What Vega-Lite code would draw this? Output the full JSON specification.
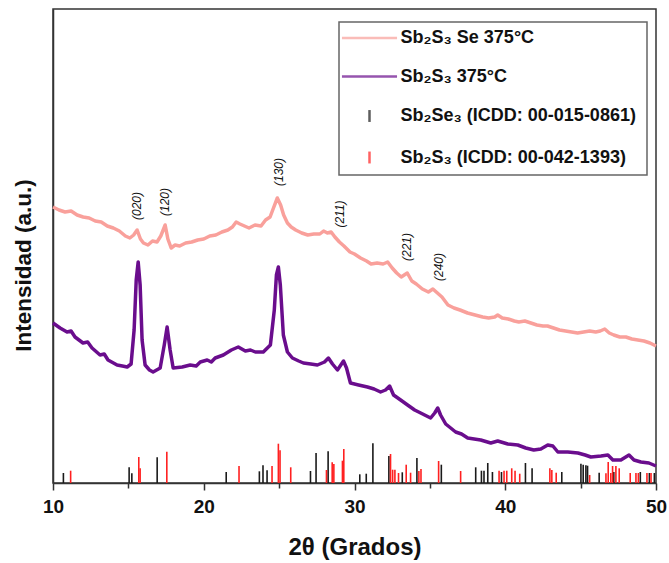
{
  "$schema": "https://vega.github.io/schema/vega-lite/v6.json",
  "width": 603,
  "height": 474,
  "autosize": {"type": "none"},
  "padding": {"left": 53, "top": 9, "right": 13, "bottom": 80},
  "background": "white",
  "config": {
    "view": {"stroke": "#333", "strokeWidth": 1.5},
    "font": "Liberation Sans",
    "legend": {"strokeWidth": 1.5}
  },
  "datasets": {
    "curves": [
      {"theta": 10.0, "I": 276, "series": "Sb₂S₃ Se 375°C"},
      {"theta": 10.4, "I": 273, "series": "Sb₂S₃ Se 375°C"},
      {"theta": 10.8, "I": 271, "series": "Sb₂S₃ Se 375°C"},
      {"theta": 11.2, "I": 272, "series": "Sb₂S₃ Se 375°C"},
      {"theta": 11.6, "I": 268, "series": "Sb₂S₃ Se 375°C"},
      {"theta": 12.0, "I": 266, "series": "Sb₂S₃ Se 375°C"},
      {"theta": 12.4, "I": 265, "series": "Sb₂S₃ Se 375°C"},
      {"theta": 12.8, "I": 262, "series": "Sb₂S₃ Se 375°C"},
      {"theta": 13.2, "I": 261, "series": "Sb₂S₃ Se 375°C"},
      {"theta": 13.6, "I": 257, "series": "Sb₂S₃ Se 375°C"},
      {"theta": 14.0, "I": 255, "series": "Sb₂S₃ Se 375°C"},
      {"theta": 14.4, "I": 252, "series": "Sb₂S₃ Se 375°C"},
      {"theta": 14.8, "I": 247, "series": "Sb₂S₃ Se 375°C"},
      {"theta": 15.1, "I": 245, "series": "Sb₂S₃ Se 375°C"},
      {"theta": 15.35, "I": 248, "series": "Sb₂S₃ Se 375°C"},
      {"theta": 15.58, "I": 253, "series": "Sb₂S₃ Se 375°C"},
      {"theta": 15.8, "I": 244, "series": "Sb₂S₃ Se 375°C"},
      {"theta": 16.0, "I": 240, "series": "Sb₂S₃ Se 375°C"},
      {"theta": 16.3, "I": 238, "series": "Sb₂S₃ Se 375°C"},
      {"theta": 16.6, "I": 242, "series": "Sb₂S₃ Se 375°C"},
      {"theta": 16.9, "I": 241, "series": "Sb₂S₃ Se 375°C"},
      {"theta": 17.15, "I": 247, "series": "Sb₂S₃ Se 375°C"},
      {"theta": 17.44, "I": 258, "series": "Sb₂S₃ Se 375°C"},
      {"theta": 17.62, "I": 244, "series": "Sb₂S₃ Se 375°C"},
      {"theta": 17.84, "I": 235, "series": "Sb₂S₃ Se 375°C"},
      {"theta": 18.1, "I": 238, "series": "Sb₂S₃ Se 375°C"},
      {"theta": 18.4, "I": 237, "series": "Sb₂S₃ Se 375°C"},
      {"theta": 18.8, "I": 240, "series": "Sb₂S₃ Se 375°C"},
      {"theta": 19.2, "I": 241, "series": "Sb₂S₃ Se 375°C"},
      {"theta": 19.6, "I": 243, "series": "Sb₂S₃ Se 375°C"},
      {"theta": 20.0, "I": 244, "series": "Sb₂S₃ Se 375°C"},
      {"theta": 20.4, "I": 247, "series": "Sb₂S₃ Se 375°C"},
      {"theta": 20.8, "I": 248, "series": "Sb₂S₃ Se 375°C"},
      {"theta": 21.2, "I": 251, "series": "Sb₂S₃ Se 375°C"},
      {"theta": 21.6, "I": 253, "series": "Sb₂S₃ Se 375°C"},
      {"theta": 21.9, "I": 256, "series": "Sb₂S₃ Se 375°C"},
      {"theta": 22.15, "I": 261, "series": "Sb₂S₃ Se 375°C"},
      {"theta": 22.4, "I": 259, "series": "Sb₂S₃ Se 375°C"},
      {"theta": 22.7, "I": 257, "series": "Sb₂S₃ Se 375°C"},
      {"theta": 23.0, "I": 255, "series": "Sb₂S₃ Se 375°C"},
      {"theta": 23.4, "I": 258, "series": "Sb₂S₃ Se 375°C"},
      {"theta": 23.8, "I": 257, "series": "Sb₂S₃ Se 375°C"},
      {"theta": 24.1, "I": 263, "series": "Sb₂S₃ Se 375°C"},
      {"theta": 24.4, "I": 266, "series": "Sb₂S₃ Se 375°C"},
      {"theta": 24.6, "I": 274, "series": "Sb₂S₃ Se 375°C"},
      {"theta": 24.88, "I": 285, "series": "Sb₂S₃ Se 375°C"},
      {"theta": 25.1, "I": 278, "series": "Sb₂S₃ Se 375°C"},
      {"theta": 25.3, "I": 268, "series": "Sb₂S₃ Se 375°C"},
      {"theta": 25.55, "I": 260, "series": "Sb₂S₃ Se 375°C"},
      {"theta": 25.8, "I": 256, "series": "Sb₂S₃ Se 375°C"},
      {"theta": 26.1, "I": 253, "series": "Sb₂S₃ Se 375°C"},
      {"theta": 26.5, "I": 250, "series": "Sb₂S₃ Se 375°C"},
      {"theta": 26.9, "I": 248, "series": "Sb₂S₃ Se 375°C"},
      {"theta": 27.3, "I": 249, "series": "Sb₂S₃ Se 375°C"},
      {"theta": 27.7, "I": 249, "series": "Sb₂S₃ Se 375°C"},
      {"theta": 27.95, "I": 252, "series": "Sb₂S₃ Se 375°C"},
      {"theta": 28.2, "I": 250, "series": "Sb₂S₃ Se 375°C"},
      {"theta": 28.45, "I": 251, "series": "Sb₂S₃ Se 375°C"},
      {"theta": 28.7, "I": 246, "series": "Sb₂S₃ Se 375°C"},
      {"theta": 29.0, "I": 241, "series": "Sb₂S₃ Se 375°C"},
      {"theta": 29.3, "I": 237, "series": "Sb₂S₃ Se 375°C"},
      {"theta": 29.7, "I": 231, "series": "Sb₂S₃ Se 375°C"},
      {"theta": 30.0, "I": 229, "series": "Sb₂S₃ Se 375°C"},
      {"theta": 30.4, "I": 225, "series": "Sb₂S₃ Se 375°C"},
      {"theta": 30.8, "I": 222, "series": "Sb₂S₃ Se 375°C"},
      {"theta": 31.1, "I": 219, "series": "Sb₂S₃ Se 375°C"},
      {"theta": 31.5, "I": 220, "series": "Sb₂S₃ Se 375°C"},
      {"theta": 31.9, "I": 219, "series": "Sb₂S₃ Se 375°C"},
      {"theta": 32.2, "I": 221, "series": "Sb₂S₃ Se 375°C"},
      {"theta": 32.5, "I": 215, "series": "Sb₂S₃ Se 375°C"},
      {"theta": 32.8, "I": 210, "series": "Sb₂S₃ Se 375°C"},
      {"theta": 33.1, "I": 206, "series": "Sb₂S₃ Se 375°C"},
      {"theta": 33.5, "I": 210, "series": "Sb₂S₃ Se 375°C"},
      {"theta": 33.8, "I": 202, "series": "Sb₂S₃ Se 375°C"},
      {"theta": 34.1, "I": 199, "series": "Sb₂S₃ Se 375°C"},
      {"theta": 34.5, "I": 194, "series": "Sb₂S₃ Se 375°C"},
      {"theta": 34.9, "I": 191, "series": "Sb₂S₃ Se 375°C"},
      {"theta": 35.2, "I": 194, "series": "Sb₂S₃ Se 375°C"},
      {"theta": 35.5, "I": 190, "series": "Sb₂S₃ Se 375°C"},
      {"theta": 35.8, "I": 186, "series": "Sb₂S₃ Se 375°C"},
      {"theta": 36.2, "I": 178, "series": "Sb₂S₃ Se 375°C"},
      {"theta": 36.6, "I": 175, "series": "Sb₂S₃ Se 375°C"},
      {"theta": 37.0, "I": 173, "series": "Sb₂S₃ Se 375°C"},
      {"theta": 37.5, "I": 170, "series": "Sb₂S₃ Se 375°C"},
      {"theta": 38.0, "I": 168, "series": "Sb₂S₃ Se 375°C"},
      {"theta": 38.5, "I": 166, "series": "Sb₂S₃ Se 375°C"},
      {"theta": 38.9, "I": 165, "series": "Sb₂S₃ Se 375°C"},
      {"theta": 39.3, "I": 166, "series": "Sb₂S₃ Se 375°C"},
      {"theta": 39.5, "I": 168, "series": "Sb₂S₃ Se 375°C"},
      {"theta": 39.8, "I": 165, "series": "Sb₂S₃ Se 375°C"},
      {"theta": 40.2, "I": 164, "series": "Sb₂S₃ Se 375°C"},
      {"theta": 40.6, "I": 162, "series": "Sb₂S₃ Se 375°C"},
      {"theta": 40.9, "I": 161, "series": "Sb₂S₃ Se 375°C"},
      {"theta": 41.3, "I": 162, "series": "Sb₂S₃ Se 375°C"},
      {"theta": 41.7, "I": 160, "series": "Sb₂S₃ Se 375°C"},
      {"theta": 42.1, "I": 158, "series": "Sb₂S₃ Se 375°C"},
      {"theta": 42.5, "I": 157, "series": "Sb₂S₃ Se 375°C"},
      {"theta": 42.8, "I": 157, "series": "Sb₂S₃ Se 375°C"},
      {"theta": 43.2, "I": 155, "series": "Sb₂S₃ Se 375°C"},
      {"theta": 43.6, "I": 153, "series": "Sb₂S₃ Se 375°C"},
      {"theta": 44.0, "I": 152, "series": "Sb₂S₃ Se 375°C"},
      {"theta": 44.4, "I": 151, "series": "Sb₂S₃ Se 375°C"},
      {"theta": 44.8, "I": 150, "series": "Sb₂S₃ Se 375°C"},
      {"theta": 45.2, "I": 151, "series": "Sb₂S₃ Se 375°C"},
      {"theta": 45.6, "I": 152, "series": "Sb₂S₃ Se 375°C"},
      {"theta": 46.0, "I": 151, "series": "Sb₂S₃ Se 375°C"},
      {"theta": 46.3, "I": 152, "series": "Sb₂S₃ Se 375°C"},
      {"theta": 46.6, "I": 154, "series": "Sb₂S₃ Se 375°C"},
      {"theta": 46.9, "I": 150, "series": "Sb₂S₃ Se 375°C"},
      {"theta": 47.2, "I": 148, "series": "Sb₂S₃ Se 375°C"},
      {"theta": 47.6, "I": 146, "series": "Sb₂S₃ Se 375°C"},
      {"theta": 48.0, "I": 146, "series": "Sb₂S₃ Se 375°C"},
      {"theta": 48.4, "I": 144, "series": "Sb₂S₃ Se 375°C"},
      {"theta": 48.8, "I": 143, "series": "Sb₂S₃ Se 375°C"},
      {"theta": 49.2, "I": 142, "series": "Sb₂S₃ Se 375°C"},
      {"theta": 49.6, "I": 140, "series": "Sb₂S₃ Se 375°C"},
      {"theta": 50.0, "I": 137, "series": "Sb₂S₃ Se 375°C"},

      {"theta": 10.0, "I": 160, "series": "Sb₂S₃ 375°C"},
      {"theta": 10.47, "I": 155, "series": "Sb₂S₃ 375°C"},
      {"theta": 10.93, "I": 151, "series": "Sb₂S₃ 375°C"},
      {"theta": 11.2, "I": 152, "series": "Sb₂S₃ 375°C"},
      {"theta": 11.46, "I": 146, "series": "Sb₂S₃ 375°C"},
      {"theta": 11.99, "I": 140, "series": "Sb₂S₃ 375°C"},
      {"theta": 12.3, "I": 141, "series": "Sb₂S₃ 375°C"},
      {"theta": 12.59, "I": 135, "series": "Sb₂S₃ 375°C"},
      {"theta": 13.12, "I": 128, "series": "Sb₂S₃ 375°C"},
      {"theta": 13.4, "I": 129, "series": "Sb₂S₃ 375°C"},
      {"theta": 13.65, "I": 123, "series": "Sb₂S₃ 375°C"},
      {"theta": 14.25, "I": 118, "series": "Sb₂S₃ 375°C"},
      {"theta": 14.6, "I": 117, "series": "Sb₂S₃ 375°C"},
      {"theta": 14.92, "I": 116, "series": "Sb₂S₃ 375°C"},
      {"theta": 15.18, "I": 119, "series": "Sb₂S₃ 375°C"},
      {"theta": 15.38, "I": 153, "series": "Sb₂S₃ 375°C"},
      {"theta": 15.52, "I": 203, "series": "Sb₂S₃ 375°C"},
      {"theta": 15.65, "I": 221, "series": "Sb₂S₃ 375°C"},
      {"theta": 15.78, "I": 198, "series": "Sb₂S₃ 375°C"},
      {"theta": 15.91, "I": 143, "series": "Sb₂S₃ 375°C"},
      {"theta": 16.11, "I": 118, "series": "Sb₂S₃ 375°C"},
      {"theta": 16.4, "I": 113, "series": "Sb₂S₃ 375°C"},
      {"theta": 16.64, "I": 111, "series": "Sb₂S₃ 375°C"},
      {"theta": 17.11, "I": 115, "series": "Sb₂S₃ 375°C"},
      {"theta": 17.38, "I": 138, "series": "Sb₂S₃ 375°C"},
      {"theta": 17.57, "I": 156, "series": "Sb₂S₃ 375°C"},
      {"theta": 17.77, "I": 133, "series": "Sb₂S₃ 375°C"},
      {"theta": 17.97, "I": 115, "series": "Sb₂S₃ 375°C"},
      {"theta": 18.57, "I": 116, "series": "Sb₂S₃ 375°C"},
      {"theta": 19.1, "I": 118, "series": "Sb₂S₃ 375°C"},
      {"theta": 19.5, "I": 117, "series": "Sb₂S₃ 375°C"},
      {"theta": 19.77, "I": 121, "series": "Sb₂S₃ 375°C"},
      {"theta": 20.23, "I": 123, "series": "Sb₂S₃ 375°C"},
      {"theta": 20.5, "I": 121, "series": "Sb₂S₃ 375°C"},
      {"theta": 20.76, "I": 125, "series": "Sb₂S₃ 375°C"},
      {"theta": 21.3, "I": 128, "series": "Sb₂S₃ 375°C"},
      {"theta": 21.83, "I": 133, "series": "Sb₂S₃ 375°C"},
      {"theta": 22.29, "I": 136, "series": "Sb₂S₃ 375°C"},
      {"theta": 22.76, "I": 132, "series": "Sb₂S₃ 375°C"},
      {"theta": 23.1, "I": 133, "series": "Sb₂S₃ 375°C"},
      {"theta": 23.42, "I": 131, "series": "Sb₂S₃ 375°C"},
      {"theta": 23.95, "I": 131, "series": "Sb₂S₃ 375°C"},
      {"theta": 24.42, "I": 138, "series": "Sb₂S₃ 375°C"},
      {"theta": 24.68, "I": 173, "series": "Sb₂S₃ 375°C"},
      {"theta": 24.82, "I": 208, "series": "Sb₂S₃ 375°C"},
      {"theta": 24.95, "I": 216, "series": "Sb₂S₃ 375°C"},
      {"theta": 25.08, "I": 198, "series": "Sb₂S₃ 375°C"},
      {"theta": 25.28, "I": 148, "series": "Sb₂S₃ 375°C"},
      {"theta": 25.55, "I": 131, "series": "Sb₂S₃ 375°C"},
      {"theta": 25.88, "I": 125, "series": "Sb₂S₃ 375°C"},
      {"theta": 26.3, "I": 122, "series": "Sb₂S₃ 375°C"},
      {"theta": 26.61, "I": 120, "series": "Sb₂S₃ 375°C"},
      {"theta": 27.1, "I": 119, "series": "Sb₂S₃ 375°C"},
      {"theta": 27.54, "I": 118, "series": "Sb₂S₃ 375°C"},
      {"theta": 28.01, "I": 121, "series": "Sb₂S₃ 375°C"},
      {"theta": 28.27, "I": 125, "series": "Sb₂S₃ 375°C"},
      {"theta": 28.54, "I": 119, "series": "Sb₂S₃ 375°C"},
      {"theta": 28.87, "I": 113, "series": "Sb₂S₃ 375°C"},
      {"theta": 29.27, "I": 122, "series": "Sb₂S₃ 375°C"},
      {"theta": 29.47, "I": 115, "series": "Sb₂S₃ 375°C"},
      {"theta": 29.73, "I": 100, "series": "Sb₂S₃ 375°C"},
      {"theta": 30.27, "I": 98, "series": "Sb₂S₃ 375°C"},
      {"theta": 30.86, "I": 96, "series": "Sb₂S₃ 375°C"},
      {"theta": 31.3, "I": 94, "series": "Sb₂S₃ 375°C"},
      {"theta": 31.73, "I": 91, "series": "Sb₂S₃ 375°C"},
      {"theta": 32.06, "I": 93, "series": "Sb₂S₃ 375°C"},
      {"theta": 32.33, "I": 97, "series": "Sb₂S₃ 375°C"},
      {"theta": 32.59, "I": 88, "series": "Sb₂S₃ 375°C"},
      {"theta": 33.06, "I": 83, "series": "Sb₂S₃ 375°C"},
      {"theta": 33.52, "I": 78, "series": "Sb₂S₃ 375°C"},
      {"theta": 33.99, "I": 73, "series": "Sb₂S₃ 375°C"},
      {"theta": 34.39, "I": 70, "series": "Sb₂S₃ 375°C"},
      {"theta": 35.05, "I": 65, "series": "Sb₂S₃ 375°C"},
      {"theta": 35.32, "I": 70, "series": "Sb₂S₃ 375°C"},
      {"theta": 35.52, "I": 75, "series": "Sb₂S₃ 375°C"},
      {"theta": 35.71, "I": 68, "series": "Sb₂S₃ 375°C"},
      {"theta": 36.05, "I": 59, "series": "Sb₂S₃ 375°C"},
      {"theta": 36.71, "I": 51, "series": "Sb₂S₃ 375°C"},
      {"theta": 37.1, "I": 49, "series": "Sb₂S₃ 375°C"},
      {"theta": 37.51, "I": 45, "series": "Sb₂S₃ 375°C"},
      {"theta": 38.37, "I": 43, "series": "Sb₂S₃ 375°C"},
      {"theta": 39.04, "I": 40, "series": "Sb₂S₃ 375°C"},
      {"theta": 39.5, "I": 42, "series": "Sb₂S₃ 375°C"},
      {"theta": 40.17, "I": 39, "series": "Sb₂S₃ 375°C"},
      {"theta": 40.83, "I": 38, "series": "Sb₂S₃ 375°C"},
      {"theta": 41.36, "I": 35, "series": "Sb₂S₃ 375°C"},
      {"theta": 41.89, "I": 33, "series": "Sb₂S₃ 375°C"},
      {"theta": 42.36, "I": 34, "series": "Sb₂S₃ 375°C"},
      {"theta": 42.82, "I": 38, "series": "Sb₂S₃ 375°C"},
      {"theta": 43.16, "I": 37, "series": "Sb₂S₃ 375°C"},
      {"theta": 43.49, "I": 31, "series": "Sb₂S₃ 375°C"},
      {"theta": 44.15, "I": 31, "series": "Sb₂S₃ 375°C"},
      {"theta": 44.82, "I": 30, "series": "Sb₂S₃ 375°C"},
      {"theta": 45.3, "I": 28, "series": "Sb₂S₃ 375°C"},
      {"theta": 45.68, "I": 26, "series": "Sb₂S₃ 375°C"},
      {"theta": 46.35, "I": 27, "series": "Sb₂S₃ 375°C"},
      {"theta": 46.81, "I": 28, "series": "Sb₂S₃ 375°C"},
      {"theta": 47.14, "I": 23, "series": "Sb₂S₃ 375°C"},
      {"theta": 47.67, "I": 23, "series": "Sb₂S₃ 375°C"},
      {"theta": 48.21, "I": 28, "series": "Sb₂S₃ 375°C"},
      {"theta": 48.54, "I": 23, "series": "Sb₂S₃ 375°C"},
      {"theta": 49.0, "I": 21, "series": "Sb₂S₃ 375°C"},
      {"theta": 49.53, "I": 20, "series": "Sb₂S₃ 375°C"},
      {"theta": 50.0, "I": 17, "series": "Sb₂S₃ 375°C"}
    ],
    "sticks": [
      {"theta": 10.69, "h": 10, "series": "Sb₂Se₃  (ICDD: 00-015-0861)"},
      {"theta": 15.05, "h": 15.7, "series": "Sb₂Se₃  (ICDD: 00-015-0861)"},
      {"theta": 15.23, "h": 9.7, "series": "Sb₂Se₃  (ICDD: 00-015-0861)"},
      {"theta": 16.91, "h": 25.7, "series": "Sb₂Se₃  (ICDD: 00-015-0861)"},
      {"theta": 21.49, "h": 11, "series": "Sb₂Se₃  (ICDD: 00-015-0861)"},
      {"theta": 23.69, "h": 11.7, "series": "Sb₂Se₃  (ICDD: 00-015-0861)"},
      {"theta": 23.93, "h": 17.7, "series": "Sb₂Se₃  (ICDD: 00-015-0861)"},
      {"theta": 24.2, "h": 12.7, "series": "Sb₂Se₃  (ICDD: 00-015-0861)"},
      {"theta": 27.08, "h": 12, "series": "Sb₂Se₃  (ICDD: 00-015-0861)"},
      {"theta": 27.45, "h": 30, "series": "Sb₂Se₃  (ICDD: 00-015-0861)"},
      {"theta": 28.25, "h": 31.7, "series": "Sb₂Se₃  (ICDD: 00-015-0861)"},
      {"theta": 30.35, "h": 8.7, "series": "Sb₂Se₃  (ICDD: 00-015-0861)"},
      {"theta": 30.78, "h": 9.3, "series": "Sb₂Se₃  (ICDD: 00-015-0861)"},
      {"theta": 31.22, "h": 39.7, "series": "Sb₂Se₃  (ICDD: 00-015-0861)"},
      {"theta": 32.28, "h": 27, "series": "Sb₂Se₃  (ICDD: 00-015-0861)"},
      {"theta": 33.17, "h": 10.7, "series": "Sb₂Se₃  (ICDD: 00-015-0861)"},
      {"theta": 34.14, "h": 25, "series": "Sb₂Se₃  (ICDD: 00-015-0861)"},
      {"theta": 35.76, "h": 18.3, "series": "Sb₂Se₃  (ICDD: 00-015-0861)"},
      {"theta": 38.04, "h": 15.7, "series": "Sb₂Se₃  (ICDD: 00-015-0861)"},
      {"theta": 38.42, "h": 12.3, "series": "Sb₂Se₃  (ICDD: 00-015-0861)"},
      {"theta": 38.59, "h": 12.3, "series": "Sb₂Se₃  (ICDD: 00-015-0861)"},
      {"theta": 38.84, "h": 20, "series": "Sb₂Se₃  (ICDD: 00-015-0861)"},
      {"theta": 39.15, "h": 11, "series": "Sb₂Se₃  (ICDD: 00-015-0861)"},
      {"theta": 39.75, "h": 11, "series": "Sb₂Se₃  (ICDD: 00-015-0861)"},
      {"theta": 41.34, "h": 20, "series": "Sb₂Se₃  (ICDD: 00-015-0861)"},
      {"theta": 41.78, "h": 14.7, "series": "Sb₂Se₃  (ICDD: 00-015-0861)"},
      {"theta": 43.75, "h": 11, "series": "Sb₂Se₃  (ICDD: 00-015-0861)"},
      {"theta": 45.02, "h": 19.3, "series": "Sb₂Se₃  (ICDD: 00-015-0861)"},
      {"theta": 45.17, "h": 18.3, "series": "Sb₂Se₃  (ICDD: 00-015-0861)"},
      {"theta": 45.35, "h": 17.7, "series": "Sb₂Se₃  (ICDD: 00-015-0861)"},
      {"theta": 45.46, "h": 17.3, "series": "Sb₂Se₃  (ICDD: 00-015-0861)"},
      {"theta": 46.23, "h": 10.3, "series": "Sb₂Se₃  (ICDD: 00-015-0861)"},
      {"theta": 47.2, "h": 11, "series": "Sb₂Se₃  (ICDD: 00-015-0861)"},
      {"theta": 48.96, "h": 11, "series": "Sb₂Se₃  (ICDD: 00-015-0861)"},
      {"theta": 49.56, "h": 10, "series": "Sb₂Se₃  (ICDD: 00-015-0861)"},
      {"theta": 49.89, "h": 10, "series": "Sb₂Se₃  (ICDD: 00-015-0861)"},
      {"theta": 11.17, "h": 12.3, "series": "Sb₂S₃  (ICDD: 00-042-1393)"},
      {"theta": 15.69, "h": 26, "series": "Sb₂S₃  (ICDD: 00-042-1393)"},
      {"theta": 15.78, "h": 14.7, "series": "Sb₂S₃  (ICDD: 00-042-1393)"},
      {"theta": 17.55, "h": 31.3, "series": "Sb₂S₃  (ICDD: 00-042-1393)"},
      {"theta": 22.34, "h": 17, "series": "Sb₂S₃  (ICDD: 00-042-1393)"},
      {"theta": 24.53, "h": 17, "series": "Sb₂S₃  (ICDD: 00-042-1393)"},
      {"theta": 24.95, "h": 39.3, "series": "Sb₂S₃  (ICDD: 00-042-1393)"},
      {"theta": 25.06, "h": 32.7, "series": "Sb₂S₃  (ICDD: 00-042-1393)"},
      {"theta": 25.77, "h": 15.7, "series": "Sb₂S₃  (ICDD: 00-042-1393)"},
      {"theta": 28.14, "h": 13, "series": "Sb₂S₃  (ICDD: 00-042-1393)"},
      {"theta": 28.52, "h": 20.7, "series": "Sb₂S₃  (ICDD: 00-042-1393)"},
      {"theta": 28.63, "h": 19, "series": "Sb₂S₃  (ICDD: 00-042-1393)"},
      {"theta": 29.2, "h": 22.3, "series": "Sb₂S₃  (ICDD: 00-042-1393)"},
      {"theta": 29.29, "h": 34, "series": "Sb₂S₃  (ICDD: 00-042-1393)"},
      {"theta": 32.39, "h": 29, "series": "Sb₂S₃  (ICDD: 00-042-1393)"},
      {"theta": 32.53, "h": 13.3, "series": "Sb₂S₃  (ICDD: 00-042-1393)"},
      {"theta": 32.68, "h": 13.3, "series": "Sb₂S₃  (ICDD: 00-042-1393)"},
      {"theta": 32.92, "h": 10, "series": "Sb₂S₃  (ICDD: 00-042-1393)"},
      {"theta": 33.43, "h": 18.3, "series": "Sb₂S₃  (ICDD: 00-042-1393)"},
      {"theta": 33.72, "h": 10.3, "series": "Sb₂S₃  (ICDD: 00-042-1393)"},
      {"theta": 34.27, "h": 12, "series": "Sb₂S₃  (ICDD: 00-042-1393)"},
      {"theta": 34.41, "h": 14, "series": "Sb₂S₃  (ICDD: 00-042-1393)"},
      {"theta": 35.58, "h": 22, "series": "Sb₂S₃  (ICDD: 00-042-1393)"},
      {"theta": 37.04, "h": 12, "series": "Sb₂S₃  (ICDD: 00-042-1393)"},
      {"theta": 39.59, "h": 12.3, "series": "Sb₂S₃  (ICDD: 00-042-1393)"},
      {"theta": 39.92, "h": 12.3, "series": "Sb₂S₃  (ICDD: 00-042-1393)"},
      {"theta": 40.1, "h": 12.3, "series": "Sb₂S₃  (ICDD: 00-042-1393)"},
      {"theta": 40.43, "h": 14.7, "series": "Sb₂S₃  (ICDD: 00-042-1393)"},
      {"theta": 40.65, "h": 12.3, "series": "Sb₂S₃  (ICDD: 00-042-1393)"},
      {"theta": 40.96, "h": 9.3, "series": "Sb₂S₃  (ICDD: 00-042-1393)"},
      {"theta": 42.96, "h": 14.7, "series": "Sb₂S₃  (ICDD: 00-042-1393)"},
      {"theta": 43.09, "h": 13, "series": "Sb₂S₃  (ICDD: 00-042-1393)"},
      {"theta": 43.38, "h": 10.3, "series": "Sb₂S₃  (ICDD: 00-042-1393)"},
      {"theta": 45.6, "h": 8, "series": "Sb₂S₃  (ICDD: 00-042-1393)"},
      {"theta": 46.68, "h": 9.7, "series": "Sb₂S₃  (ICDD: 00-042-1393)"},
      {"theta": 46.83, "h": 21, "series": "Sb₂S₃  (ICDD: 00-042-1393)"},
      {"theta": 47.0, "h": 10, "series": "Sb₂S₃  (ICDD: 00-042-1393)"},
      {"theta": 47.12, "h": 17, "series": "Sb₂S₃  (ICDD: 00-042-1393)"},
      {"theta": 47.34, "h": 17, "series": "Sb₂S₃  (ICDD: 00-042-1393)"},
      {"theta": 47.56, "h": 14.7, "series": "Sb₂S₃  (ICDD: 00-042-1393)"},
      {"theta": 48.29, "h": 10, "series": "Sb₂S₃  (ICDD: 00-042-1393)"},
      {"theta": 48.67, "h": 10, "series": "Sb₂S₃  (ICDD: 00-042-1393)"},
      {"theta": 48.83, "h": 10, "series": "Sb₂S₃  (ICDD: 00-042-1393)"},
      {"theta": 49.4, "h": 10, "series": "Sb₂S₃  (ICDD: 00-042-1393)"},
      {"theta": 49.67, "h": 10, "series": "Sb₂S₃  (ICDD: 00-042-1393)"}
    ],
    "peaks": [
      {"theta": 15.56, "I": 277, "hkl": "(020)"},
      {"theta": 17.44, "I": 281, "hkl": "(120)"},
      {"theta": 24.97, "I": 311, "hkl": "(130)"},
      {"theta": 29.07, "I": 269, "hkl": "(211)"},
      {"theta": 33.5, "I": 236, "hkl": "(221)"},
      {"theta": 35.6, "I": 216, "hkl": "(240)"}
    ]
  },
  "encoding": {
    "x": {
      "field": "theta",
      "type": "quantitative",
      "scale": {"domain": [10, 50], "nice": false, "zero": false},
      "axis": {
        "title": "2θ (Grados)",
        "values": [10, 15, 20, 25, 30, 35, 40, 45, 50],
        "labelExpr": "datum.value % 10 === 0 ? datum.label : ''",
        "grid": false,
        "domainColor": "#333",
        "domainWidth": 1.5,
        "tickColor": "#333",
        "tickWidth": 1.5,
        "tickSize": {"condition": {"test": "datum.value % 10 === 0", "value": 7}, "value": 5},
        "labelFont": "Liberation Sans",
        "labelFontSize": 19,
        "labelFontWeight": "bold",
        "labelColor": "#111",
        "labelPadding": 7,
        "labelFlush": false,
        "titleFont": "Liberation Sans",
        "titleFontSize": 24,
        "titleFontWeight": "bold",
        "titleColor": "#111",
        "titlePadding": 19
      }
    }
  },
  "layer": [
    {
      "data": {"name": "sticks"},
      "mark": {"type": "rule", "strokeWidth": 1.6},
      "encoding": {
        "y": {
          "field": "h",
          "type": "quantitative",
          "scale": {"domain": [0, 474], "nice": false},
          "axis": {
            "title": "Intensidad (a.u.)",
            "labels": false,
            "ticks": false,
            "grid": false,
            "domainColor": "#333",
            "domainWidth": 1.5,
            "titleFont": "Liberation Sans",
            "titleFontSize": 22.5,
            "titleFontWeight": "bold",
            "titleColor": "#111",
            "titlePadding": 18,
            "titleY": 256
          }
        },
        "y2": {"datum": 0},
        "color": {
          "field": "series",
          "type": "nominal",
          "scale": {
            "domain": ["Sb₂S₃ Se 375°C", "Sb₂S₃ 375°C", "Sb₂Se₃  (ICDD: 00-015-0861)", "Sb₂S₃  (ICDD: 00-042-1393)"],
            "range": ["#f9a09b", "#6a0d8d", "#1a1a1a", "#ff2020"]
          },
          "legend": {
            "title": null,
            "orient": "none",
            "legendX": 286,
            "legendY": 13,
            "strokeColor": "#666",
            "padding": 6,
            "symbolSize": 289,
            "symbolStrokeWidth": 2.5,
            "symbolOffset": 14.5,
            "labelFont": "Liberation Sans",
            "labelFontSize": 18,
            "labelFontWeight": "bold",
            "labelColor": "#111",
            "labelOffset": 21,
            "rowPadding": 19.5,
            "labelLimit": 400
          }
        }
      }
    },
    {
      "data": {"name": "curves"},
      "mark": {"type": "line", "strokeWidth": 3.5, "strokeJoin": "round"},
      "encoding": {
        "y": {"field": "I", "type": "quantitative"},
        "color": {"field": "series", "type": "nominal"},
        "order": {"field": "theta"}
      }
    },
    {
      "data": {"name": "curves"},
      "transform": [{"filter": "false"}],
      "mark": {"type": "point", "filled": false},
      "encoding": {
        "y": {"field": "I", "type": "quantitative"},
        "color": {"field": "series", "type": "nominal"},
        "shape": {
          "field": "series",
          "type": "nominal",
          "scale": {
            "domain": ["Sb₂S₃ Se 375°C", "Sb₂S₃ 375°C", "Sb₂Se₃  (ICDD: 00-015-0861)", "Sb₂S₃  (ICDD: 00-042-1393)"],
            "range": ["M-3.24,0L3.24,0", "M-3.24,0L3.24,0", "M0,-0.7L0,0.7", "M0,-0.7L0,0.7"]
          },
          "legend": {"title": null}
        }
      }
    },
    {
      "data": {"name": "peaks"},
      "mark": {"type": "text", "angle": 270, "align": "center", "baseline": "middle", "font": "Liberation Sans", "fontStyle": "italic", "fontSize": 12, "color": "#111"},
      "encoding": {
        "y": {"field": "I", "type": "quantitative"},
        "text": {"field": "hkl"}
      }
    }
  ]
}
